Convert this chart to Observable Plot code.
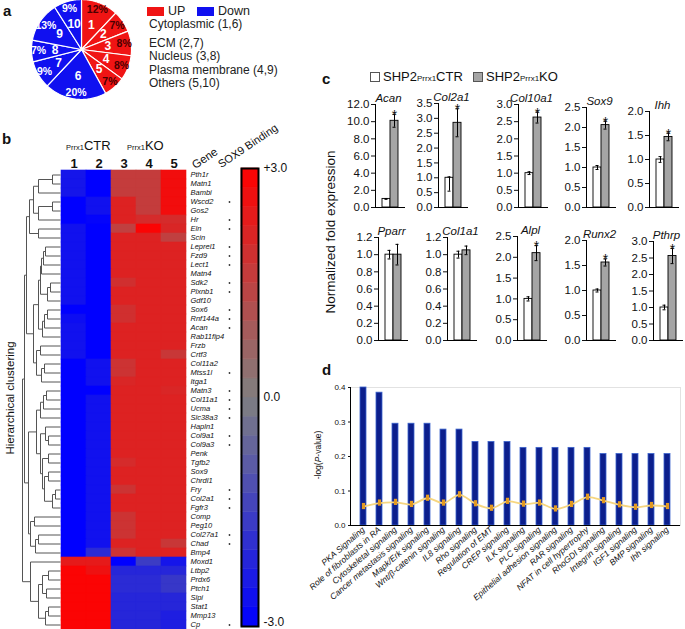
<!DOCTYPE html>
<html><head><meta charset="utf-8">
<script src="https://cdn.jsdelivr.net/npm/d3@7"></script>
<script src="https://cdn.jsdelivr.net/npm/@observablehq/plot@0.6"></script>
<style>
body{margin:0;background:#fff;}
#root{position:relative;width:685px;height:629px;overflow:hidden;font-family:"Liberation Sans",Arial,sans-serif;color:#111;background:#fff;}
</style></head><body><div id="root"></div>
<script>
// ================= DATA =================
// Panel a
const pieCategories = ["Cytoplasmic", "ECM", "Nucleus", "Plasma membrane", "Others"];
const pieSliceIds = [1, 2, 3, 4, 5, 6, 7, 8, 9, 10];
const pieDirection = ["UP", "UP", "UP", "UP", "UP", "Down", "Down", "Down", "Down", "Down"];
const piePercent = [12, 7, 8, 8, 7, 20, 9, 7, 13, 9];

// Panel b
const heatColumns = ["1", "2", "3", "4", "5"];
const genes = ["Pth1r","Matn1","Bambi","Wscd2","Gos2","Hr","Eln","Scin","Leprel1","Fzd9","Lect1","Matn4","Sdk2","Plxnb1","Gdf10","Sox6","Rnf144a","Acan","Rab11fip4","Frzb","Crtf3","Col11a2","Mtss1l","Itga1","Matn3","Col11a1","Ucma","Slc38a3","Hapln1","Col9a1","Col9a3","Penk","Tgfb2","Sox9","Chrdl1","Fry","Col2a1","Fgfr3","Comp","Peg10","Col27a1","Chad","Bmp4","Moxd1","Ltbp2","Prdx6","Ptch1","Slpi","Stat1","Mmp13","Cp"];
const heatValues = [
 [-2.5,-3,1.6,1.6,2.7],[-2.5,-3,1.6,1.6,2.7],[-2.5,-3,1.6,1.6,2.7],
 [-3,-2.6,2.2,1.6,2.7],[-3,-2.6,2.2,1.6,2.7],[-3,-2.9,2.2,2.0,2.0],
 [-2.6,-3,1.5,2.9,2.1],[-2.6,-3,2.2,2.2,1.5],
 [-2.6,-3,2.2,2.2,2.2],[-2.6,-3,2.2,2.2,2.2],[-2.6,-3,2.2,2.2,2.2],[-2.6,-3,2.2,2.2,2.2],
 [-2.6,-3,1.9,2.2,2.2],[-2.6,-3,2.2,2.2,2.2],[-2.6,-3,2.2,2.2,2.2],
 [-3,-3,1.9,2.2,2.2],[-2.7,-3,1.9,2.2,2.2],[-2.6,-3,2.2,2.2,2.2],[-2.6,-3,2.2,2.2,2.2],
 [-2.6,-3,2.2,2.2,2.2],[-2.6,-3,2.2,2.2,1.7],
 [-3,-2.6,1.8,2.2,2.2],[-3,-2.6,1.8,2.2,2.2],[-3,-2.6,2.1,2.2,2.2],
 [-3,-3,2.2,2.2,2.1],[-3,-2.6,2.2,2.2,2.2],[-3,-2.6,2.2,2.2,2.2],[-3,-2.6,2.2,2.2,2.2],
 [-3,-2.6,2.2,2.2,2.2],[-3,-2.6,2.2,2.2,2.2],[-3,-2.6,2.2,2.2,2.2],[-3,-2.6,2.2,2.2,2.2],
 [-3,-2.6,2.0,2.2,2.2],[-3,-2.6,2.2,2.2,2.2],[-3,-2.6,2.2,2.2,2.2],
 [-3,-2.6,1.8,2.2,2.2],[-3,-2.6,2.2,2.2,2.2],[-3,-2.6,2.2,2.2,2.2],
 [-3,-2.6,1.8,2.2,2.2],[-3,-2.6,1.8,2.2,2.2],[-3,-2.6,1.8,2.2,2.2],[-3,-2.6,2.2,2.2,1.7],
 [-3,-2.0,1.8,2.2,2.2],
 [2.4,2.4,-3,-1.6,-2.5],[2.9,2.6,-2.1,-2.1,-2.1],[2.9,2.9,-2.0,-2.0,-1.7],[2.9,2.9,-2.0,-2.0,-1.7],
 [2.9,2.9,-2.1,-2.1,-2.1],[2.9,2.9,-2.1,-2.1,-2.1],[2.9,2.9,-2.1,-2.1,-2.3],[2.9,2.9,-2.1,-2.1,-2.3]
];
const sox9BoundGenes = ["Wscd2","Hr","Eln","Leprel1","Fzd9","Lect1","Sdk2","Plxnb1","Sox6","Rnf144a","Acan","Mtss1l","Matn3","Col11a1","Ucma","Slc38a3","Col9a1","Col9a3","Fry","Col2a1","Fgfr3","Col27a1","Chad","Cp"];
// dendrogram: [mergeHeight, left, right]; leaves are gene row indices
const dendrogram =
[38,
  [36,
    [34,
      [31, [27, [22,[8,0,1],2], [22,[8,3,4],5]], [22,6,7]],
      [27, [22, [20, [19,[17,[15,8,9],10],11], [13,[10,12,13],14]], [18,[16,[13,15,16],17],18]],
           [24, [20,19,20], [19,[16,21,22],23]]]
    ],
    [32,
      [24, [20,[17,[14,24,25],26],27], [20, [15,28,[12,29,30]], [18,[12,31,32],[16,[12,33,34],[8,[5,35,36],37]]]]],
      [30, [26,38,39], [25,[22,40,41],42]]
    ]
  ],
  [30, 43, [22, [18,[12,44,45],[14,46,47]], [15,[12,48,49],50]]]
];
const colorbarTicks = [3, 0, -3];

// Panel c
const qpcrGenes = ["Acan","Col2a1","Col10a1","Sox9","Ihh","Pparr","Col1a1","Alpl","Runx2","Pthrp"];
const ctrMean = [1, 1, 1, 1, 1, 1, 1, 1, 1, 1];
const ctrErrLow = [0.05, 0.45, 0.04, 0.05, 0.06, 0.05, 0.04, 0.05, 0.03, 0.07];
const ctrErrHigh = [0.05, 0.03, 0.04, 0.05, 0.06, 0.05, 0.04, 0.05, 0.03, 0.07];
const koMean = [10.1, 2.85, 2.62, 2.06, 1.47, 1.0, 1.05, 2.1, 1.56, 2.56];
const koErr = [0.75, 0.47, 0.16, 0.1, 0.08, 0.12, 0.05, 0.18, 0.07, 0.23];
const koSignificant = [true, true, true, true, true, false, false, true, true, true];
const yAxisMax = [12, 3.5, 3, 2.5, 2, 1.2, 1.2, 2.5, 2, 3];
const yTickStep = [2, 0.5, 0.5, 0.5, 0.5, 0.2, 0.2, 0.5, 0.5, 0.5];

// Panel d
const pathways = ["PKA Signaling","Role of fibroblasts in RA","Cytoskeletal signaling","Cancer metastasis signaling","Mapk/Erk signaling","Wnt/β-catenin signaling","IL8 signaling","Rho signaling","Regulation of EMT","CREP signaling","ILK signaling","PLC signaling","Epithelial adhesion signaling","RAR signaling","NFAT in cell hypertrophy","RhoGDI signaling","Integrin signaling","IGF1 signaling","BMP signaling","Ihh signaling"];
const pathwayScore = [0.40,0.385,0.295,0.295,0.295,0.278,0.278,0.242,0.242,0.242,0.225,0.225,0.225,0.225,0.225,0.207,0.207,0.207,0.207,0.207];
const pathwayRatio = [0.055,0.065,0.067,0.061,0.079,0.065,0.089,0.063,0.050,0.070,0.062,0.065,0.048,0.061,0.082,0.072,0.060,0.053,0.058,0.055];

// ================= LAYOUT / HELPERS =================
const root = document.getElementById("root");
const FONT = '"Liberation Sans", Arial, sans-serif';
const svgStyle = {fontFamily: FONT, overflow: "visible", maxWidth: "none", background: "transparent", color: "#111"};
function addPlot(svg, left, top) {
  svg.style.position = "absolute"; svg.style.left = left + "px"; svg.style.top = top + "px";
  root.appendChild(svg); return svg;
}
function addHTML(html, style) {
  const d = document.createElement("div"); d.innerHTML = html;
  Object.assign(d.style, {position: "absolute", whiteSpace: "nowrap"}, style);
  root.appendChild(d); return d;
}
function panelLabel(t, left, cy) {
  addHTML(t, {left: left + "px", top: (cy - 9) + "px", fontSize: "15px", fontWeight: "bold", lineHeight: "18px"});
}

// ================= PANEL a =================
panelLabel("a", 3, 11);
const arcs = d3.pie().sort(null).value(d => d)(piePercent);
const slices = arcs.map((a, i) => ({id: pieSliceIds[i], dir: pieDirection[i], pct: piePercent[i],
  a0: a.startAngle, a1: a.endAngle, mid: (a.startAngle + a.endAngle) / 2}));
const pieColor = {UP: "#f01414", Down: "#1010f0"};
const pieMarks = slices.map(s => {
  const pts = [{x: 0, y: 0}];
  const n = 60;
  for (let k = 0; k <= n; k++) { const a = s.a0 + (s.a1 - s.a0) * k / n; pts.push({x: Math.sin(a), y: Math.cos(a)}); }
  pts.push({x: 0, y: 0});
  return Plot.line(pts, {x: "x", y: "y", fill: pieColor[s.dir], stroke: "#fff", strokeWidth: 1.2});
});
addPlot(Plot.plot({
  width: 104, height: 104, margin: 2, style: svgStyle,
  x: {domain: [-1, 1], axis: null}, y: {domain: [-1, 1], axis: null},
  color: {type: "identity"},
  marks: [
    ...pieMarks,
    Plot.text(slices, {x: s => 0.53 * Math.sin(s.mid), y: s => 0.53 * Math.cos(s.mid), text: s => String(s.id), fill: "#fff", fontSize: 12, fontWeight: "bold"}),
    Plot.text(slices, {x: s => 0.86 * Math.sin(s.mid), y: s => 0.86 * Math.cos(s.mid), text: s => s.pct + "%", fill: s => s.dir === "UP" ? "#4a0000" : "#ffffff", fontSize: 10.5, fontWeight: "bold"})
  ]
}), 29, -3);
addHTML("", {left: "147px", top: "7px", width: "17px", height: "9px", background: pieColor.UP});
addHTML("UP", {left: "168px", top: "4px", fontSize: "12.5px", lineHeight: "15px", color: "#222"});
addHTML("", {left: "197px", top: "7px", width: "17px", height: "9px", background: pieColor.Down});
addHTML("Down", {left: "218px", top: "4px", fontSize: "12.5px", lineHeight: "15px", color: "#222"});
const catY = [24, 43, 56, 70, 83];
pieCategories.forEach((c, i) => {
  addHTML(`${c} (${pieSliceIds[i]},${pieSliceIds[i + 5]})`, {left: "149px", top: (catY[i] - 7) + "px", fontSize: "12px", lineHeight: "14px", color: "#222"});
});

// ================= PANEL b =================
panelLabel("b", 2, 139);
const heatColor = {type: "linear", domain: [-3, 0, 3], range: ["#0000ff", "#808080", "#ff0000"], interpolate: "rgb"};
const heatData = [];
genes.forEach((g, r) => heatColumns.forEach((c, j) => heatData.push({gene: g, col: c, v: heatValues[r][j]})));
addPlot(Plot.plot({
  width: 200, height: 489, marginLeft: 0, marginRight: 73, marginTop: 30, marginBottom: 0, style: svgStyle,
  x: {domain: heatColumns, padding: 0, label: null},
  y: {domain: genes, padding: 0, label: null},
  color: heatColor,
  marks: [
    Plot.cell(heatData, {x: "col", y: "gene", fill: "v", stroke: "v", strokeWidth: 0.6, inset: 0}),
    Plot.axisX({anchor: "top", tickSize: 0, tickPadding: 3, fontSize: 13, fontWeight: "bold", label: null}),
    Plot.axisY({anchor: "right", tickSize: 0, tickPadding: 3, fontSize: 7.5, fontStyle: "italic", label: null}),
    Plot.dot(sox9BoundGenes, {y: d => d, frameAnchor: "right", dx: 42, r: 0.9, fill: "#333", stroke: null})
  ]
}), 60, 140);
// dendrogram
const dendroSegs = [];
function layoutTree(node) {
  if (typeof node === "number") return {h: 0, y: node};
  const [h, a, b] = node;
  const A = layoutTree(a), B = layoutTree(b);
  dendroSegs.push({x1: h, x2: h, y1: A.y, y2: B.y});
  dendroSegs.push({x1: h, x2: A.h, y1: A.y, y2: A.y});
  dendroSegs.push({x1: h, x2: B.h, y1: B.y, y2: B.y});
  return {h, y: (A.y + B.y) / 2};
}
layoutTree(dendrogram);
addPlot(Plot.plot({
  width: 40, height: 459, margin: 0, style: svgStyle,
  x: {domain: [0, 40], reverse: true, axis: null},
  y: {domain: [-0.5, genes.length - 0.5], reverse: true, axis: null},
  marks: [Plot.link(dendroSegs, {x1: "x1", x2: "x2", y1: "y1", y2: "y2", stroke: "#555", strokeWidth: 1})]
}), 20, 170);
// colour bar
const cbBands = d3.range(-3, 3, 0.25).map(t => ({lo: t, hi: t + 0.25, mid: t + 0.125}));
addPlot(Plot.plot({
  width: 50, height: 460, marginLeft: 1, marginRight: 32, marginTop: 1, marginBottom: 1, style: svgStyle,
  x: {domain: [0, 1], axis: null},
  y: {domain: [-3, 3], label: null},
  color: heatColor,
  marks: [
    Plot.rect(cbBands, {x1: 0, x2: 1, y1: "lo", y2: "hi", fill: "mid", stroke: "mid", strokeWidth: 0.5}),
    Plot.frame({stroke: "#000", strokeWidth: 2}),
    Plot.axisY({anchor: "right", ticks: colorbarTicks.filter(d => d >= 0), tickFormat: d => (d > 0 ? "+" : "") + d.toFixed(1), tickSize: 0, tickPadding: 5, fontSize: 12, label: null}),
    Plot.axisY({anchor: "right", ticks: colorbarTicks.filter(d => d < 0), tickFormat: d => d.toFixed(1), tickSize: 0, tickPadding: 5, dy: -4, fontSize: 12, label: null})
  ]
}), 240, 167);
addHTML('<span style="font-size:7.5px">Prrx1</span><span style="font-size:13px">CTR</span>', {left: "66px", top: "137px", lineHeight: "16px"});
addHTML('<span style="font-size:7.5px">Prrx1</span><span style="font-size:13px">KO</span>', {left: "127px", top: "137px", lineHeight: "16px"});
addHTML("Gene", {left: "193px", top: "159px", fontSize: "11.5px", lineHeight: "14px", transform: "rotate(-34deg)", transformOrigin: "0 50%"});
addHTML("SOX9 Binding", {left: "219px", top: "158px", fontSize: "11px", lineHeight: "14px", transform: "rotate(-34deg)", transformOrigin: "0 50%"});
addHTML("Hierarchical clustering", {left: "10px", top: "398px", fontSize: "11.5px", lineHeight: "14px", transform: "translate(-50%,-50%) rotate(-90deg)"});

// ================= PANEL c =================
panelLabel("c", 322, 79);
addHTML("", {left: "370px", top: "72px", width: "8px", height: "8px", border: "1px solid #555", background: "#fff"});
addHTML('SHP2<span style="font-size:8px">Prrx1</span>CTR', {left: "383px", top: "69px", fontSize: "13px", lineHeight: "16px"});
addHTML("", {left: "473px", top: "72px", width: "8px", height: "8px", border: "1px solid #555", background: "#a5a5a5"});
addHTML('SHP2<span style="font-size:8px">Prrx1</span>KO', {left: "486px", top: "69px", fontSize: "13px", lineHeight: "16px"});
addHTML("Normalized fold expression", {left: "331px", top: "232px", fontSize: "13.5px", lineHeight: "16px", transform: "translate(-50%,-50%) rotate(-90deg)"});

const cAxisX = [375, 438, 518, 586, 649, 378, 447, 517, 586, 653];
const cTopY = [104, 103, 104, 107, 111, 237, 237, 236, 240, 241];
const cZeroY = [207, 207, 207, 207, 207, 340, 340, 340, 340, 340];
qpcrGenes.forEach((g, i) => {
  const mT = 20, mB = 6, mL = 32, mR = 6, pw = 30;
  const rows = [
    {grp: "CTR", v: ctrMean[i], lo: ctrErrLow[i], hi: ctrErrHigh[i], sig: false},
    {grp: "KO", v: koMean[i], lo: koErr[i], hi: koErr[i], sig: koSignificant[i]}
  ];
  const ticks = d3.range(0, yAxisMax[i] + 1e-9, yTickStep[i]);
  const svg = Plot.plot({
    width: mL + pw + mR, height: mT + (cZeroY[i] - cTopY[i]) + mB,
    marginLeft: mL, marginRight: mR, marginTop: mT, marginBottom: mB, style: svgStyle,
    x: {domain: ["CTR", "KO"], paddingInner: 0, paddingOuter: 0.667, axis: null},
    y: {domain: [0, yAxisMax[i]], label: null},
    marks: [
      Plot.axisY({ticks, tickFormat: d => d.toFixed(1), tickSize: 4, tickPadding: 2, fontSize: 11.5, label: null}),
      Plot.barY(rows.filter(d => d.grp === "CTR"), {x: "grp", y: "v", fill: "#fff", stroke: "#000", strokeWidth: 0.9}),
      Plot.barY(rows.filter(d => d.grp === "KO"), {x: "grp", y: "v", fill: "#a5a5a5", stroke: "#000", strokeWidth: 0.9}),
      Plot.ruleX(rows, {x: "grp", y1: d => d.v - d.lo, y2: d => d.v + d.hi, stroke: "#000", strokeWidth: 1}),
      Plot.tickY(rows, {x: "grp", y: d => d.v + d.hi, insetLeft: 2.5, insetRight: 2.5, stroke: "#000"}),
      Plot.tickY(rows, {x: "grp", y: d => d.v - d.lo, insetLeft: 2.5, insetRight: 2.5, stroke: "#000"}),
      Plot.text(rows.filter(d => d.sig), {x: "grp", y: d => d.v + d.hi, text: () => "*", dy: 1, fontSize: 14}),
      Plot.ruleY([0], {stroke: "#000"}),
      Plot.frame({anchor: "left", stroke: "#000"}),
      Plot.text([g], {text: d => d, frameAnchor: "top", dx: -2, dy: -11, fontSize: 11.5, fontStyle: "italic"})
    ]
  });
  addPlot(svg, cAxisX[i] - mL, cTopY[i] - mT);
});

// ================= PANEL d =================
panelLabel("d", 322, 370);
const dData = pathways.map((p, i) => ({name: p, score: pathwayScore[i], ratio: pathwayRatio[i]}));
addPlot(Plot.plot({
  width: 385, height: 254, marginLeft: 50, marginRight: 5, marginTop: 12, marginBottom: 104, style: svgStyle,
  x: {domain: pathways, paddingInner: 0.62, paddingOuter: 0.31, label: null},
  y: {domain: [0, 0.4], label: null},
  marks: [
    Plot.frame({stroke: "#e2e2e2"}),
    Plot.barY(dData, {x: "name", y: "score", fill: "#0c1f8c", stroke: "#3a62cc", strokeWidth: 0.8}),
    Plot.line(dData, {x: "name", y: "ratio", curve: "catmull-rom", stroke: "#f6d680", strokeWidth: 1.8}),
    Plot.ruleX(dData, {x: "name", y1: d => d.ratio - 0.009, y2: d => d.ratio + 0.009, stroke: "#e39a22", strokeWidth: 3.2}),
    Plot.ruleY([0], {stroke: "#000"}),
    Plot.frame({anchor: "left", stroke: "#000"}),
    Plot.axisY({ticks: [0, 0.1, 0.2, 0.3, 0.4], tickFormat: d => d.toFixed(1), tickSize: 2, tickPadding: 3, fontSize: 8, label: null}),
    Plot.axisX({tickRotate: -41, tickSize: 0, tickPadding: 3, fontSize: 8.5, fontStyle: "italic", label: null})
  ]
}), 300, 375);
addHTML('-log(<i>P</i>-value)', {left: "318px", top: "455px", fontSize: "8.5px", lineHeight: "10px", transform: "translate(-50%,-50%) rotate(-90deg)"});
</script></body></html>
